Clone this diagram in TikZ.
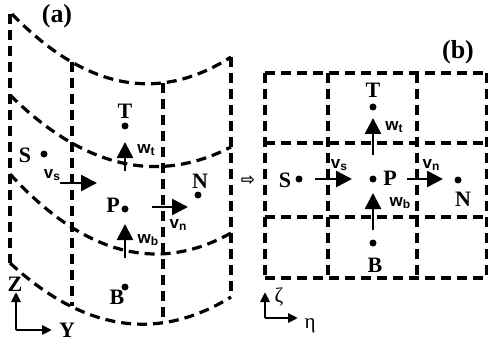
\documentclass[tikz,border=0pt]{standalone}
\usepackage{fontspec}
\setmainfont{Liberation Serif}
\newfontfamily\sansfam{Liberation Sans}
\newfontfamily\symfam{DejaVu Sans}
\usetikzlibrary{arrows.meta,calc}
\newcommand\vlab[2]{{\sansfam\bfseries\fontsize{17}{17}\selectfont #1\raisebox{-2.5pt}{\fontsize{12}{12}\selectfont #2}}}
\newcommand\qcurve[3]{\draw[grid] (#1) .. controls ($(#1)!2/3!(#2)$) and ($(#3)!2/3!(#2)$) .. (#3);}
\begin{document}
\begin{tikzpicture}[x=1pt,y=-1pt,
  grid/.style={line width=3.2pt,dash pattern=on 10pt off 6pt},
  lbl/.style={inner sep=0pt,font=\fontsize{22}{22}\selectfont\bfseries},
  big/.style={inner sep=0pt,font=\fontsize{26}{26}\selectfont\bfseries},
  pt/.style={circle,fill=black,inner sep=0pt,minimum size=7pt},
  flux/.style={line width=2.6pt,-{Triangle[length=16pt,width=16pt]}},
  axis/.style={line width=2.8pt,-{Triangle[length=10pt,width=9pt]}},
  vl/.style={inner sep=0pt}]
\useasboundingbox (0,0) rectangle (488,345);
% ---------- (a) curved grid ----------
\coordinate (c1a) at (12,14);  \coordinate (c1c) at (121.5,127); \coordinate (c1b) at (231,57);
\coordinate (c2a) at (10,95);  \coordinate (c2c) at (120.5,204); \coordinate (c2b) at (231,147);
\coordinate (c3a) at (10,174); \coordinate (c3c) at (120.5,295); \coordinate (c3b) at (231,233);
\coordinate (c4a) at (10,263); \coordinate (c4c) at (120.5,365); \coordinate (c4b) at (231,297);
\draw[grid] (10,14) -- (c4a);
\draw[grid] (72,62) -- (72,306);
\draw[grid] (163,83) -- (163,323);
\draw[grid] (c1b) -- (c4b);
\qcurve{c1a}{c1c}{c1b}
\qcurve{c2a}{c2c}{c2b}
\qcurve{c3a}{c3c}{c3b}
\qcurve{c4a}{c4c}{c4b}
\node[big] (la) at (57,16) {(a)};
\node[pt] (aT) at (125,126) {};
\node[lbl] (aTl) at (125,111) {T};
\node[pt] (aS) at (44,154) {};
\node[lbl] (aSl) at (25,155) {S};
\node[pt] (aP) at (125,209) {};
\node[lbl] (aPl) at (113,205) {P};
\node[pt] (aN) at (198,195) {};
\node[lbl] (aNl) at (200,181) {N};
\node[pt] (aB) at (125,287) {};
\node[lbl] (aBl) at (117,297) {B};
\coordinate (awt0) at (125,171); \coordinate (awt1) at (125,142);
\draw[flux] (awt0) -- (awt1);
\node[vl] (awtl) at (146,150) {\vlab{w}{t}};
\coordinate (avs0) at (60,183); \coordinate (avs1) at (97,183);
\draw[flux] (avs0) -- (avs1);
\node[vl] (avsl) at (52,175) {\vlab{v}{s}};
\coordinate (avn0) at (152,207); \coordinate (avn1) at (188,207);
\draw[flux] (avn0) -- (avn1);
\node[vl] (avnl) at (178,225) {\vlab{v}{n}};
\coordinate (awb0) at (125,258); \coordinate (awb1) at (125,224);
\draw[flux] (awb0) -- (awb1);
\node[vl] (awbl) at (148,240) {\vlab{w}{b}};
\coordinate (ao) at (16,330); \coordinate (az) at (16,292); \coordinate (ay) at (52,330);
\draw[axis] (ao) -- (az);
\draw[axis] (ao) -- (ay);
\node[lbl] (aZ) at (15,284) {Z};
\node[lbl] (aY) at (67,330) {Y};
% arrow between
\node[inner sep=0pt,font=\symfam\bfseries\fontsize{17}{17}\selectfont] (mid) at (248,181) {⇨};
% ---------- (b) straight grid ----------
\draw[grid] (265,73) -- (265,278);
\draw[grid] (328,73) -- (328,278);
\draw[grid] (417,73) -- (417,278);
\draw[grid] (487,73) -- (487,278);
\draw[grid] (265,73) -- (487,73);
\draw[grid] (265,143) -- (487,143);
\draw[grid] (265,217) -- (487,217);
\draw[grid] (265,278) -- (487,278);
\node[big] (lb) at (458,52) {(b)};
\node[pt] (bT) at (373,107) {};
\node[lbl] (bTl) at (373,90) {T};
\node[pt] (bS) at (299,179) {};
\node[lbl] (bSl) at (285,180) {S};
\node[pt] (bP) at (373,179) {};
\node[lbl] (bPl) at (390,178) {P};
\node[pt] (bN) at (458,180) {};
\node[lbl] (bNl) at (463,199) {N};
\node[pt] (bB) at (373,243) {};
\node[lbl] (bBl) at (375,265) {B};
\coordinate (bwt0) at (373,155); \coordinate (bwt1) at (373,118);
\draw[flux] (bwt0) -- (bwt1);
\node[vl] (bwtl) at (394,127) {\vlab{w}{t}};
\coordinate (bvs0) at (315,179); \coordinate (bvs1) at (352,179);
\draw[flux] (bvs0) -- (bvs1);
\node[vl] (bvsl) at (339,165) {\vlab{v}{s}};
\coordinate (bvn0) at (407,179); \coordinate (bvn1) at (443,179);
\draw[flux] (bvn0) -- (bvn1);
\node[vl] (bvnl) at (431,165) {\vlab{v}{n}};
\coordinate (bwb0) at (373,230); \coordinate (bwb1) at (373,193);
\draw[flux] (bwb0) -- (bwb1);
\node[vl] (bwbl) at (400,203) {\vlab{w}{b}};
\coordinate (bo) at (265,318); \coordinate (bz) at (265,292); \coordinate (by) at (298,318);
\draw[axis] (bo) -- (bz);
\draw[axis] (bo) -- (by);
\node[inner sep=0pt,font=\fontsize{21}{21}\selectfont] (bZ) at (279,297) {ζ};
\node[inner sep=0pt,font=\fontsize{21}{21}\selectfont] (bY) at (310,326) {η};
\end{tikzpicture}
\end{document}
